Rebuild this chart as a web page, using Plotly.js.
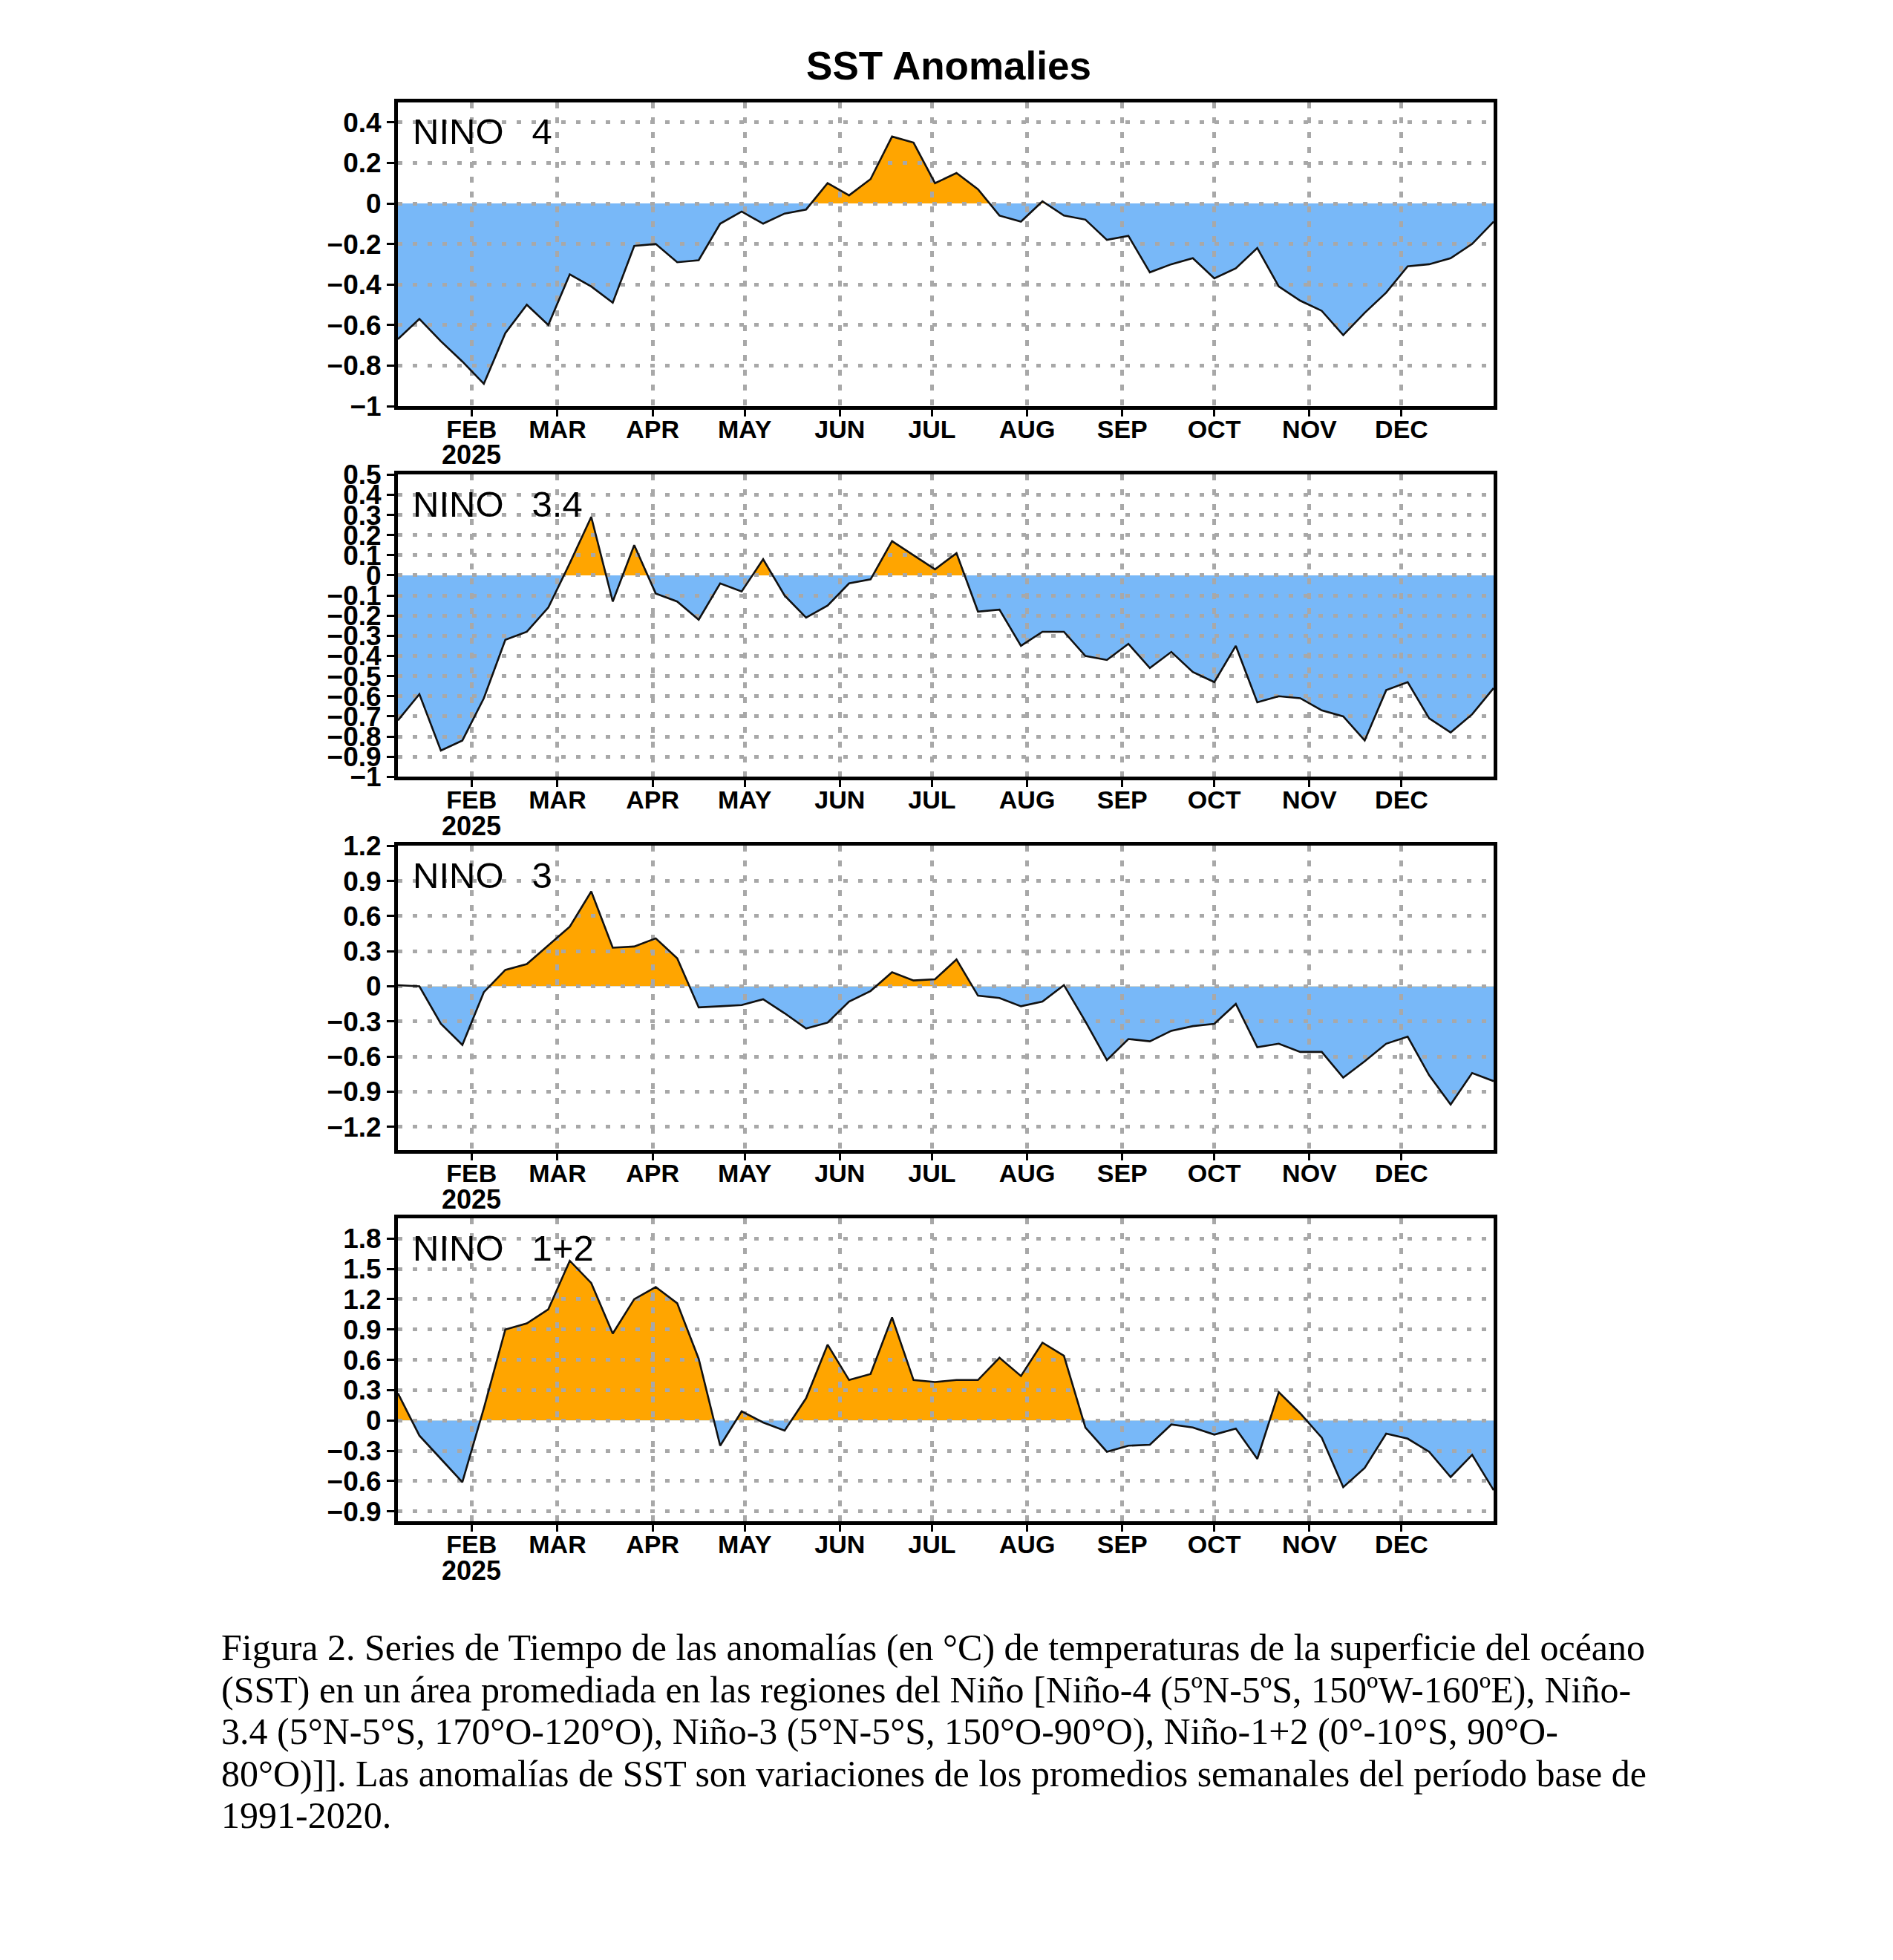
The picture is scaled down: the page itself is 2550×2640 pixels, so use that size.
<!DOCTYPE html>
<html><head><meta charset="utf-8">
<script src="https://cdn.plot.ly/plotly-3.0.1.min.js"></script>
<style>html,body{margin:0;padding:0;background:#fff}#chart{width:2550px;height:2640px}</style>
</head><body><div id="chart"></div>
<script>
// ---------- data ----------
const weeks = [
  '2025-01-08','2025-01-15','2025-01-22','2025-01-29',
  '2025-02-05','2025-02-12','2025-02-19','2025-02-26',
  '2025-03-05','2025-03-12','2025-03-19','2025-03-26',
  '2025-04-02','2025-04-09','2025-04-16','2025-04-23','2025-04-30',
  '2025-05-07','2025-05-14','2025-05-21','2025-05-28',
  '2025-06-04','2025-06-11','2025-06-18','2025-06-25',
  '2025-07-02','2025-07-09','2025-07-16','2025-07-23','2025-07-30',
  '2025-08-06','2025-08-13','2025-08-20','2025-08-27',
  '2025-09-03','2025-09-10','2025-09-17','2025-09-24',
  '2025-10-01','2025-10-08','2025-10-15','2025-10-22','2025-10-29',
  '2025-11-05','2025-11-12','2025-11-19','2025-11-26',
  '2025-12-03','2025-12-10','2025-12-17','2025-12-24','2025-12-31'
];
const nino4 = [-0.67,-0.57,-0.68,-0.78,-0.89,-0.64,-0.50,-0.60,-0.35,-0.41,-0.49,-0.21,-0.20,
  -0.29,-0.28,-0.10,-0.04,-0.10,-0.05,-0.03,0.10,0.04,0.12,0.33,0.30,0.10,0.15,0.07,-0.06,-0.09,
  0.01,-0.06,-0.08,-0.18,-0.16,-0.34,-0.30,-0.27,-0.37,-0.32,-0.22,-0.41,-0.48,-0.53,-0.65,-0.54,
  -0.44,-0.31,-0.30,-0.27,-0.20,-0.09];
const nino34 = [-0.72,-0.59,-0.87,-0.82,-0.61,-0.32,-0.28,-0.16,0.06,0.29,-0.13,0.15,-0.09,
  -0.13,-0.22,-0.04,-0.08,0.08,-0.10,-0.21,-0.15,-0.04,-0.02,0.17,0.10,0.03,0.11,-0.18,-0.17,-0.35,
  -0.28,-0.28,-0.40,-0.42,-0.34,-0.46,-0.38,-0.48,-0.53,-0.35,-0.63,-0.60,-0.61,-0.67,-0.70,-0.82,
  -0.57,-0.53,-0.71,-0.78,-0.69,-0.56];
const nino3 = [0.01,0.00,-0.32,-0.50,-0.05,0.14,0.19,0.35,0.51,0.81,0.33,0.34,0.41,
  0.24,-0.18,-0.17,-0.16,-0.11,-0.23,-0.36,-0.31,-0.13,-0.04,0.12,0.05,0.06,0.23,-0.08,-0.10,-0.17,
  -0.13,0.01,-0.30,-0.63,-0.45,-0.47,-0.38,-0.34,-0.32,-0.15,-0.52,-0.49,-0.56,-0.56,-0.78,-0.64,
  -0.49,-0.43,-0.76,-1.01,-0.74,-0.81];
const nino12 = [0.27,-0.15,-0.38,-0.61,0.12,0.90,0.96,1.10,1.58,1.36,0.86,1.20,1.32,
  1.16,0.61,-0.25,0.09,-0.02,-0.10,0.22,0.75,0.40,0.46,1.02,0.40,0.38,0.40,0.40,0.62,0.44,
  0.77,0.64,-0.07,-0.31,-0.25,-0.24,-0.04,-0.07,-0.14,-0.08,-0.38,0.28,0.07,-0.17,-0.66,-0.47,
  -0.13,-0.18,-0.31,-0.56,-0.34,-0.69];
const seriesList = [nino4, nino34, nino3, nino12];
const panelNames = ['NINO\u2002\u00a04','NINO\u2002\u00a03.4','NINO\u2002\u00a03','NINO\u2002\u00a01+2'];
const monthTicks = ['2025-02-01','2025-03-01','2025-04-01','2025-05-01','2025-06-01','2025-07-01',
  '2025-08-01','2025-09-01','2025-10-01','2025-11-01','2025-12-01'];
const monthLabels = ['FEB','MAR','APR','MAY','JUN','JUL','AUG','SEP','OCT','NOV','DEC'];
const yearLabel = '2025';
const yRanges = [[-1,0.5],[-1,0.5],[-1.4,1.2],[-1,2]];
const yDticks = [0.2,0.1,0.3,0.3];
const xRange = ['2025-01-08','2025-12-31'];
const chartTitle = 'SST Anomalies';
const captionLines = [
  'Figura 2. Series de Tiempo de las anomalías (en °C) de temperaturas de la superficie del océano',
  '(SST) en un área promediada en las regiones del Niño [Niño-4 (5ºN-5ºS, 150ºW-160ºE), Niño-',
  '3.4 (5°N-5°S, 170°O-120°O), Niño-3 (5°N-5°S, 150°O-90°O), Niño-1+2 (0°-10°S, 90°O-',
  '80°O)]]. Las anomalías de SST son variaciones de los promedios semanales del período base de',
  '1991-2020.'
];

// ---------- layout geometry (pixels) ----------
const W = 2550, H = 2640;
const plotLeft = 536, plotRight = 2012;
const panelTop = [137.5, 639.3, 1139.3, 1641];
const panelBot = [547, 1046.3, 1549.3, 2049.4];
const captionTop = 2219, captionPitch = 56.5;
const fy = px => 1 - px / H;
const xDom = [plotLeft / W, plotRight / W];

const ORANGE = 'rgb(255,165,0)';
const BLUE = 'rgb(120,184,248)';
const GRID = 'rgb(168,168,168)';
const SANS = 'Liberation Sans, Arial, sans-serif';
const id = (c, n) => n === 1 ? c : c + n;

const traces = [];
const layout = {
  width: W, height: H,
  margin: {l: 0, r: 0, t: 0, b: 0},
  paper_bgcolor: '#fff',
  plot_bgcolor: 'rgba(0,0,0,0)',
  showlegend: false,
  title: {
    text: chartTitle, x: 1278 / W, xanchor: 'center', xref: 'paper',
    y: fy(88.5), yanchor: 'middle', yref: 'paper',
    font: {family: SANS, size: 53, color: '#000', weight: 'bold'}
  },
  annotations: []
};

for (let i = 0; i < 4; i++) {
  const p = i + 1;
  const [ymin, ymax] = yRanges[i];
  const bot = fy(panelBot[i]), top = fy(panelTop[i]);
  const zf = bot + (0 - ymin) / (ymax - ymin) * (top - bot);
  const fx = p;              // hidden x axis for the fills
  const yUp = 2 * p - 1;     // hidden y axis, positive half (clips orange fill)
  const yDn = 2 * p;         // hidden y axis, negative half (clips blue fill)
  const dx = p + 4;          // display x axis (drawn after fills, grid on top)
  const dy = p + 8;          // display y axis

  layout['xaxis' + (fx === 1 ? '' : fx)] = {
    domain: xDom, range: xRange, type: 'date', visible: false,
    anchor: id('y', yUp), fixedrange: true
  };
  layout['yaxis' + (yUp === 1 ? '' : yUp)] = {
    domain: [zf, top], range: [0, ymax], visible: false, anchor: id('x', fx), fixedrange: true
  };
  layout['yaxis' + yDn] = {
    domain: [bot, zf], range: [ymin, 0], visible: false, anchor: id('x', fx), fixedrange: true
  };

  layout['xaxis' + dx] = {
    domain: xDom, range: xRange, type: 'date', anchor: id('y', dy),
    tickmode: 'array', tickvals: monthTicks, ticktext: monthLabels,
    ticks: 'outside', ticklen: 9, tickwidth: 3, tickcolor: '#000',
    ticklabelstandoff: -12,
    tickfont: {family: SANS, size: 34, color: '#000', weight: 'bold'},
    showgrid: true, gridcolor: GRID, gridwidth: 5, griddash: '8px,12px',
    showline: true, mirror: true, linecolor: '#000', linewidth: 5,
    zeroline: false, fixedrange: true
  };
  layout['yaxis' + dy] = {
    domain: [bot, top], range: [ymin, ymax], anchor: id('x', dx),
    tickmode: 'linear', tick0: 0, dtick: yDticks[i],
    ticks: 'outside', ticklen: 10, tickwidth: 3, tickcolor: '#000',
    tickfont: {family: SANS, size: 37, color: '#000', weight: 'bold'},
    showgrid: true, gridcolor: GRID, gridwidth: 5, griddash: '6px,14px',
    showline: true, mirror: true, linecolor: '#000', linewidth: 5,
    zeroline: false, fixedrange: true
  };

  const ys = seriesList[i];
  traces.push({
    x: weeks, y: ys, xaxis: id('x', fx), yaxis: id('y', yUp),
    type: 'scatter', mode: 'lines', line: {width: 0, color: ORANGE},
    fill: 'tozeroy', fillcolor: ORANGE, hoverinfo: 'skip'
  });
  traces.push({
    x: weeks, y: ys, xaxis: id('x', fx), yaxis: id('y', yDn),
    type: 'scatter', mode: 'lines', line: {width: 0, color: BLUE},
    fill: 'tozeroy', fillcolor: BLUE, hoverinfo: 'skip'
  });
  traces.push({
    x: weeks, y: ys, xaxis: id('x', dx), yaxis: id('y', dy),
    type: 'scatter', mode: 'lines', line: {width: 2.6, color: '#111'}, hoverinfo: 'skip'
  });

  layout.annotations.push({
    xref: id('x', dx) + ' domain', yref: id('y', dy) + ' domain',
    x: 0, y: 1, xanchor: 'left', yanchor: 'middle', xshift: 18, yshift: -39.5,
    text: panelNames[i], showarrow: false,
    font: {family: SANS, size: 49, color: '#000'}
  });
  layout.annotations.push({
    xref: id('x', dx), yref: id('y', dy) + ' domain',
    x: monthTicks[0], y: 0, xanchor: 'center', yanchor: 'middle', yshift: -66,
    text: yearLabel, showarrow: false,
    font: {family: SANS, size: 36, color: '#000', weight: 'bold'}
  });
}

captionLines.forEach((line, k) => {
  layout.annotations.push({
    xref: 'paper', yref: 'paper', x: 296 / W, y: fy(captionTop + k * captionPitch),
    xanchor: 'left', yanchor: 'middle', align: 'left', showarrow: false,
    text: line,
    font: {family: 'Liberation Serif, Times New Roman, serif', size: 50, color: '#000'}
  });
});

Plotly.newPlot('chart', traces, layout, {displayModeBar: false, staticPlot: true});
</script>
</body></html>
